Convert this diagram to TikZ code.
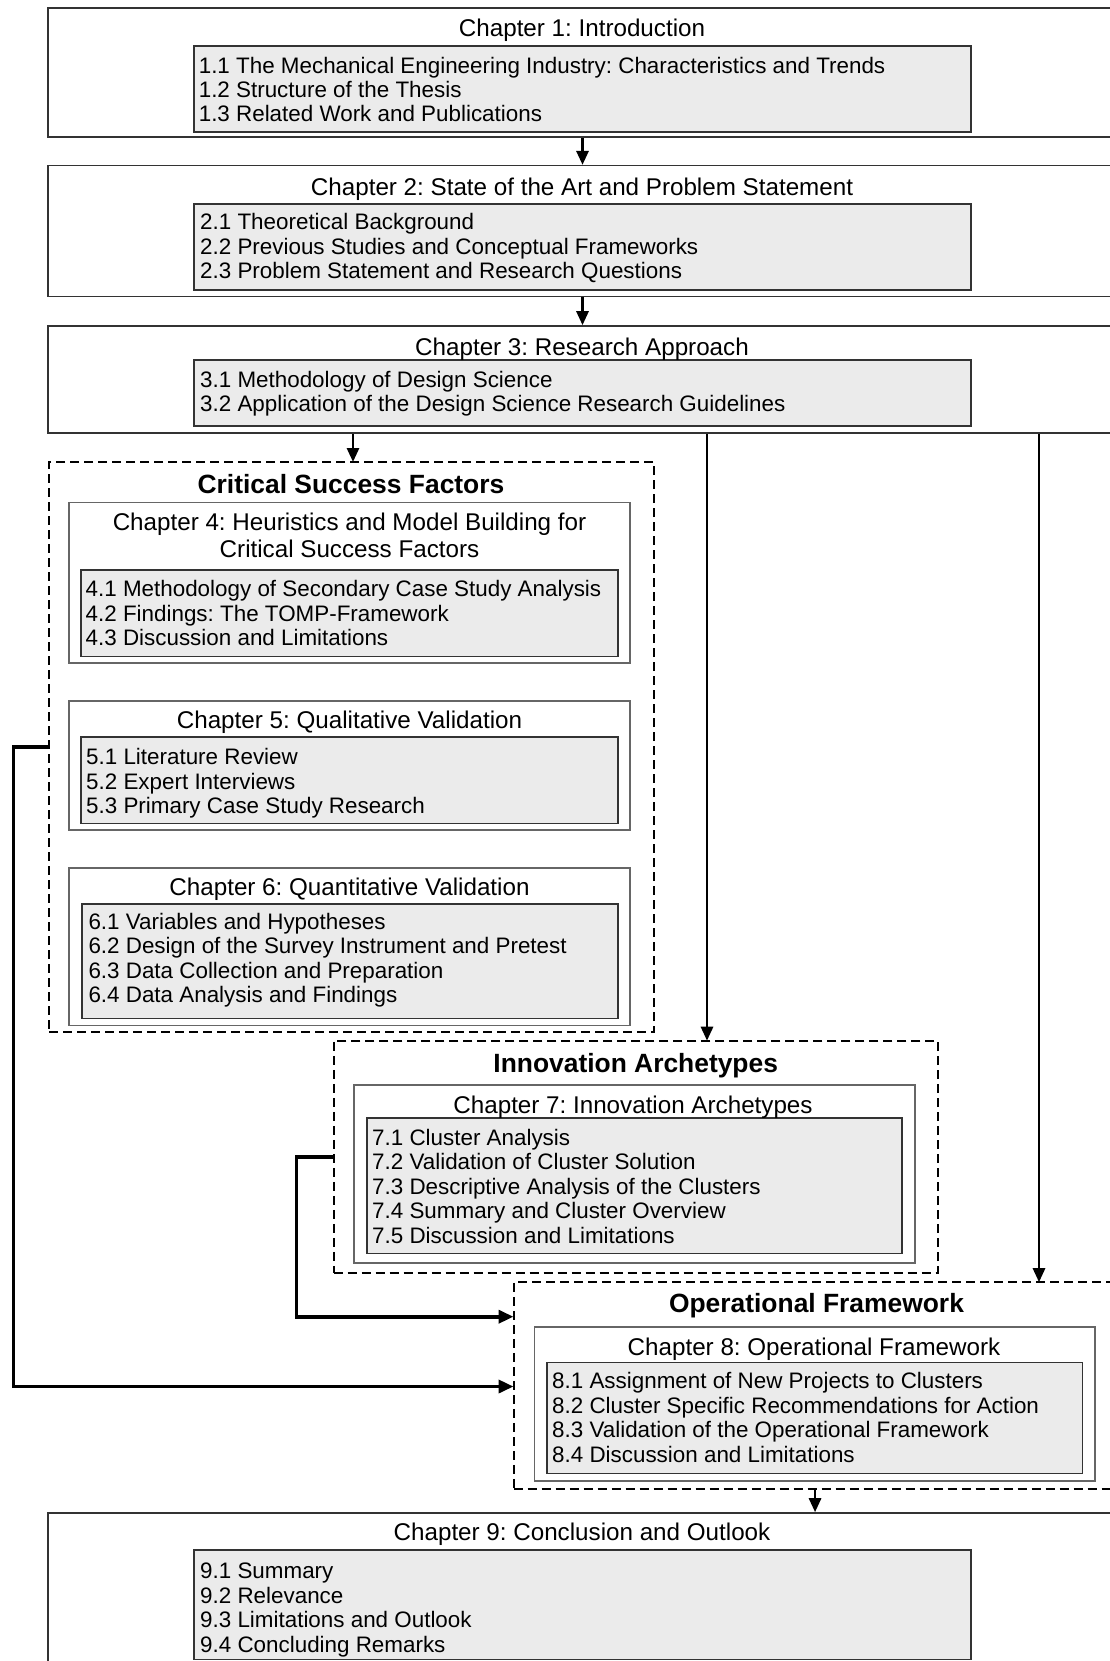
\documentclass[tikz,border=0pt]{standalone}
\usepackage{fontspec}
\setmainfont{Liberation Sans}
\usetikzlibrary{arrows.meta,fit}
\frenchspacing

\newcommand\itemsize{\fontsize{22.4}{24.4}\selectfont}
\newcommand\chapsize{\fontsize{24.2}{27}\selectfont}
\newcommand\groupsize{\fontsize{26.4}{30}\selectfont\bfseries}

\begin{document}
\begin{tikzpicture}[x=1pt,y=-1pt,
  solidbox/.style={draw=black!80, line width=1.6pt, inner sep=0pt},
  listbox/.style={draw=black!80, fill=black!8, line width=1.6pt, inner sep=0pt},
  chapbox/.style={draw=black!60, line width=1.7pt, inner sep=0pt},
  groupbox/.style={draw=black, line width=2pt, dash pattern=on 9pt off 5pt, inner sep=0pt},
  title/.style={font=\chapsize, anchor=base, inner sep=0pt},
  grouptitle/.style={font=\groupsize, anchor=base, inner sep=0pt},
  items/.style={font=\itemsize, anchor=north west, align=left, inner sep=0pt},
  flow/.style={line width=2.8pt, -{Triangle[length=14pt,width=12pt]}},
  link/.style={line width=3.6pt, -{Triangle[length=15pt,width=13pt]}}
]
\useasboundingbox (0,0) rectangle (1110,1661);

% ---------- Chapter 1 ----------
\node[solidbox, fit={(48,8.3) (1117,137)}] (c1) {};
\node[listbox, fit={(194,46) (971,132)}] (c1l) {};
\node[title] (t1) at (582,37.0) {Chapter 1: Introduction};
\node[items] (l1) at (198.6,55.9) {\strut 1.1 The Mechanical Engineering Industry: Characteristics and Trends\\
1.2 Structure of the Thesis\\
1.3 Related Work and Publications};

% ---------- Chapter 2 ----------
\node[solidbox, fit={(48,165.7) (1117,296.7)}] (c2) {};
\node[listbox, fit={(194,204) (971,290)}] (c2l) {};
\node[title] (t2) at (582,195.4) {Chapter 2: State of the Art and Problem Statement};
\node[items] (l2) at (200,212.6) {\strut 2.1 Theoretical Background\\
2.2 Previous Studies and Conceptual Frameworks\\
2.3 Problem Statement and Research Questions};

% ---------- Chapter 3 ----------
\node[solidbox, fit={(48,326) (1117,433)}] (c3) {};
\node[listbox, fit={(194,360) (971,426)}] (c3l) {};
\node[title] (t3) at (582,355.4) {Chapter 3: Research Approach};
\node[items] (l3) at (200,369.9) {\strut 3.1 Methodology of Design Science\\
3.2 Application of the Design Science Research Guidelines};

% ---------- Critical Success Factors ----------
\node[groupbox, fit={(49,462) (654,1032)}] (csf) {};
\node[grouptitle] (tcsf) at (351,493.5) {Critical Success Factors};

\node[chapbox, fit={(69,502.4) (630,662.7)}] (c4) {};
\node[listbox, fit={(81,570) (618,656.6)}] (c4l) {};
\node[title, anchor=north, align=center] (t4) at (349.5,511.8) {\strut Chapter 4: Heuristics and Model Building for\\Critical Success Factors};
\node[items] (l4) at (85.5,579.4) {\strut 4.1 Methodology of Secondary Case Study Analysis\\
4.2 Findings: The TOMP-Framework\\
4.3 Discussion and Limitations};

\node[chapbox, fit={(69,701) (630,830)}] (c5) {};
\node[listbox, fit={(81,737) (618,823.5)}] (c5l) {};
\node[title] (t5) at (349.5,728.7) {Chapter 5: Qualitative Validation};
\node[items] (l5) at (86,747.4) {\strut 5.1 Literature Review\\
5.2 Expert Interviews\\
5.3 Primary Case Study Research};

\node[chapbox, fit={(69,868) (630,1025.5)}] (c6) {};
\node[listbox, fit={(82,903.8) (618,1018.6)}] (c6l) {};
\node[title] (t6) at (349.5,895.7) {Chapter 6: Quantitative Validation};
\node[items] (l6) at (88.3,912.3) {\strut 6.1 Variables and Hypotheses\\
6.2 Design of the Survey Instrument and Pretest\\
6.3 Data Collection and Preparation\\
6.4 Data Analysis and Findings};

% ---------- Innovation Archetypes ----------
\node[groupbox, fit={(333.6,1040.7) (938,1272.7)}] (ia) {};
\node[grouptitle] (tia) at (635.7,1072.2) {Innovation Archetypes};
\node[chapbox, fit={(354,1085) (914.7,1263.3)}] (c7) {};
\node[listbox, fit={(367,1118) (901.8,1253.3)}] (c7l) {};
\node[title] (t7) at (633,1113.7) {Chapter 7: Innovation Archetypes};
\node[items] (l7) at (372,1128.2) {\strut 7.1 Cluster Analysis\\
7.2 Validation of Cluster Solution\\
7.3 Descriptive Analysis of the Clusters\\
7.4 Summary and Cluster Overview\\
7.5 Discussion and Limitations};

% ---------- Operational Framework ----------
\node[groupbox, fit={(513.5,1282.2) (1116.6,1489.3)}] (of) {};
\node[grouptitle] (tof) at (816.5,1312.8) {Operational Framework};
\node[chapbox, fit={(534.5,1327) (1095.3,1481)}] (c8) {};
\node[listbox, fit={(547.2,1362.5) (1082.5,1473.3)}] (c8l) {};
\node[title] (t8) at (814,1355.4) {Chapter 8: Operational Framework};
\node[items] (l8) at (552,1371.6) {\strut 8.1 Assignment of New Projects to Clusters\\
8.2 Cluster Specific Recommendations for Action\\
8.3 Validation of the Operational Framework\\
8.4 Discussion and Limitations};

% ---------- Chapter 9 ----------
\node[solidbox, fit={(48,1513) (1117,1700)}] (c9) {};
\node[listbox, fit={(194,1550) (971,1659.3)}] (c9l) {};
\node[title] (t9) at (582,1540.4) {Chapter 9: Conclusion and Outlook};
\node[items] (l9) at (200,1561.6) {\strut 9.1 Summary\\
9.2 Relevance\\
9.3 Limitations and Outlook\\
9.4 Concluding Remarks};

% ---------- connectors ----------
\coordinate (csfin) at (353,462);
\coordinate (iain) at (707,1040.7);
\coordinate (ofin) at (1039,1282.2);
\coordinate (ofa) at (513.5,1316.7);
\coordinate (ofb) at (513.5,1386.5);
\coordinate (csfbend) at (13.4,747);
\coordinate (iabend) at (296.6,1156.7);

\draw[flow] (c1.south) -- (c2.north);
\draw[flow] (c2.south) -- (c3.north);
\draw[flow] (c3.south -| csfin) -- (csfin);
\draw[flow] (c3.south -| iain) -- (iain);
\draw[flow] (c3.south -| ofin) -- (ofin);
\draw[flow] (of.south) -- (of.south |- c9.north);
\draw[link] (ia.west) -- (iabend) |- (ofa);
\draw[link] (csf.west) -- (csfbend) |- (ofb);
\end{tikzpicture}
\end{document}
